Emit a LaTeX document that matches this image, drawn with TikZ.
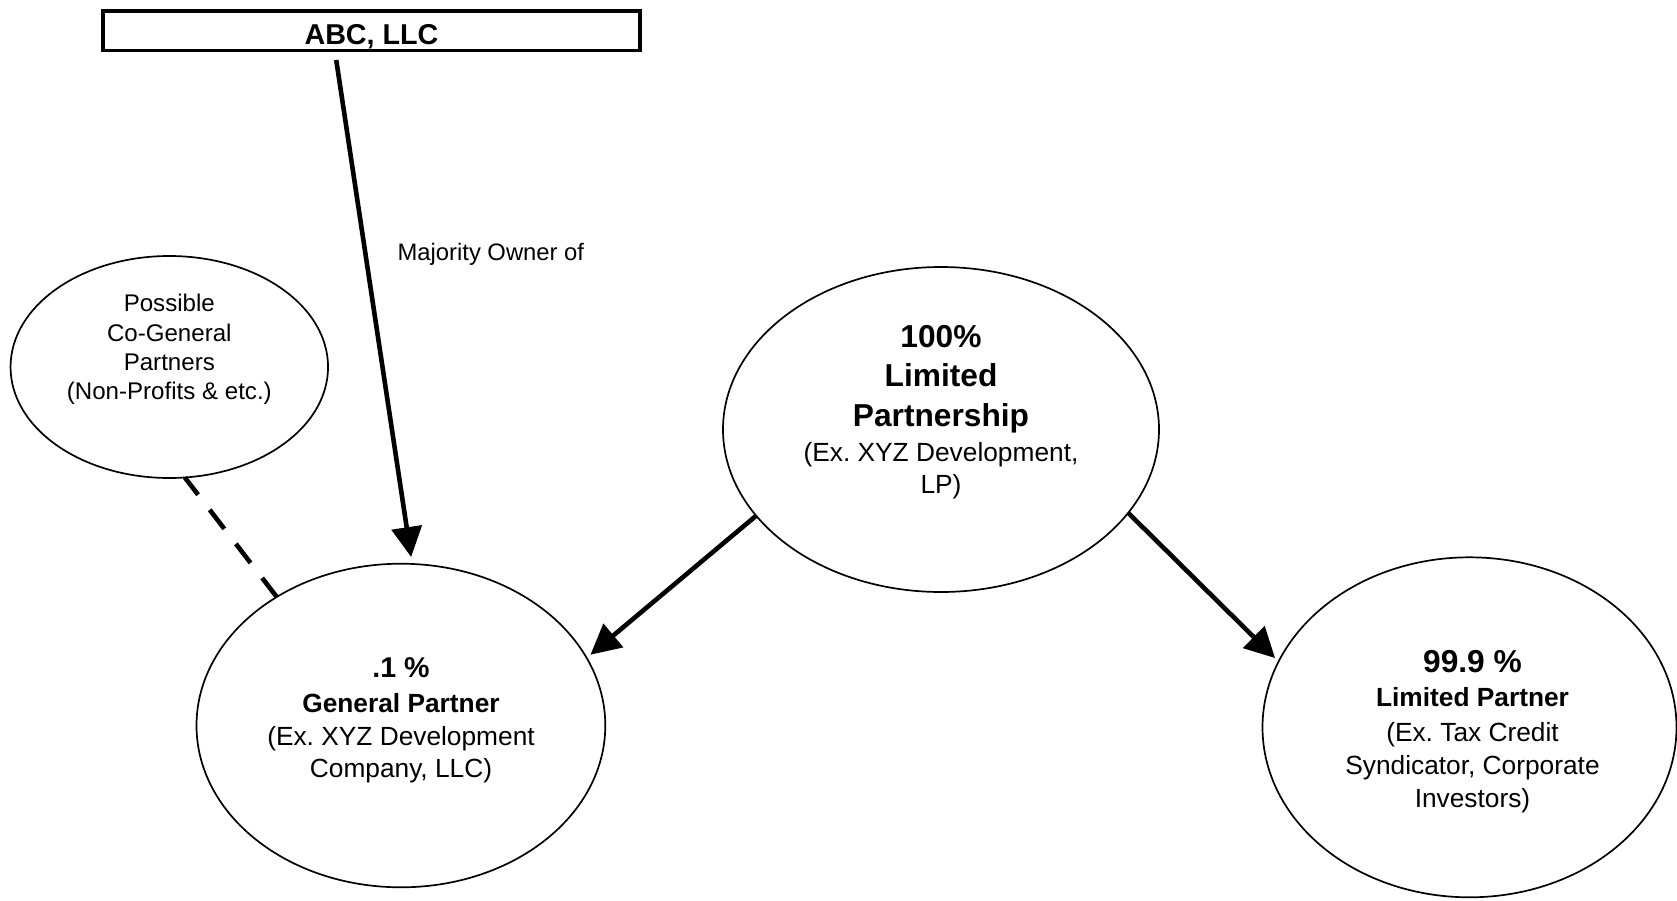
\documentclass[tikz,border=0pt]{standalone}
\usepackage{fontspec}
\setmainfont{Liberation Sans}
\usetikzlibrary{arrows.meta,shapes.geometric}
\frenchspacing
\newcommand\mystrut{\rule{0pt}{25pt}}
\newcommand\fbig{\fontsize{31.7pt}{32pt}\selectfont\bfseries}
\newcommand\fmid{\fontsize{28.6pt}{32pt}\selectfont\bfseries}
\newcommand\fsub{\fontsize{26.3pt}{32pt}\selectfont\bfseries}
\newcommand\freg{\fontsize{26.3pt}{32pt}\selectfont}
\begin{document}
\begin{tikzpicture}[x=1pt,y=-1pt,
  oval/.style={draw, ellipse, line width=1.7pt, inner sep=0pt, outer sep=0pt},
  titlebox/.style={draw, line width=3.5pt, inner sep=0pt, outer sep=0pt,
    minimum width=537pt, minimum height=39.5pt, text height=27.1pt, text depth=0pt,
    font=\fontsize{28.7pt}{32pt}\selectfont\bfseries},
  txt/.style={anchor=north, inner sep=0pt, align=center, font=\freg},
  arr/.style={line width=4.6pt, -{Triangle[length=30pt,width=30pt]}},
  dashline/.style={line width=4.6pt, dash pattern=on 24pt off 19pt}]
\useasboundingbox (0,0) rectangle (1677,900);

% shapes
\node[titlebox] (abc) at (371.5,30.75) {ABC, LLC};
\node[oval, minimum width=317.5pt, minimum height=222pt] (cogp) at (169.3,367) {};
\node[oval, minimum width=408.8pt, minimum height=323.6pt] (gp) at (400.9,725.5) {};
\node[oval, minimum width=436pt, minimum height=325pt] (lp) at (941,429.5) {};
\node[oval, minimum width=414pt, minimum height=340pt] (lpr) at (1469.5,727.3) {};

% texts
\node[txt, font=\fontsize{24.1pt}{29.1pt}\selectfont] (cogptext) at (169.3,286.7)
  {\mystrut Possible\\Co-General\\Partners\\(Non-Profits \& etc.)};
\node[txt] (gptext) at (401,652.3)
  {{\fmid\mystrut .1 \%}\\[2.7pt] {\fsub General Partner}\\[1pt] (Ex. XYZ Development\\[0.3pt] Company, LLC)};
\node[txt] (lptext) at (941,322)
  {{\fbig\mystrut 100\%}\\[7.7pt] {\fbig Limited}\\[8pt] {\fbig Partnership}\\[2.3pt] (Ex. XYZ Development,\\ LP)};
\node[txt] (lprtext) at (1472.5,647.7)
  {{\fbig\mystrut 99.9 \%}\\[2pt] {\fsub Limited Partner}\\[3pt] (Ex. Tax Credit\\[0.3pt] Syndicator, Corporate\\[1.3pt] Investors)};
\node[anchor=base west, inner sep=0pt, font=\fontsize{23.8pt}{28pt}\selectfont] (maj) at (397.4,260) {Majority Owner of};

% connectors
\draw[arr, shorten <=9.6pt, shorten >=7pt] ([xshift=-36.7pt]abc.south) -- (gp.86);
\draw[arr, shorten >=5pt] (lp.205) -- (gp.20);
\draw[arr, shorten >=5pt] (lp.336) -- (lpr.161);
\draw[dashline] (gp.134) -- (cogp.278);
\end{tikzpicture}
\end{document}
